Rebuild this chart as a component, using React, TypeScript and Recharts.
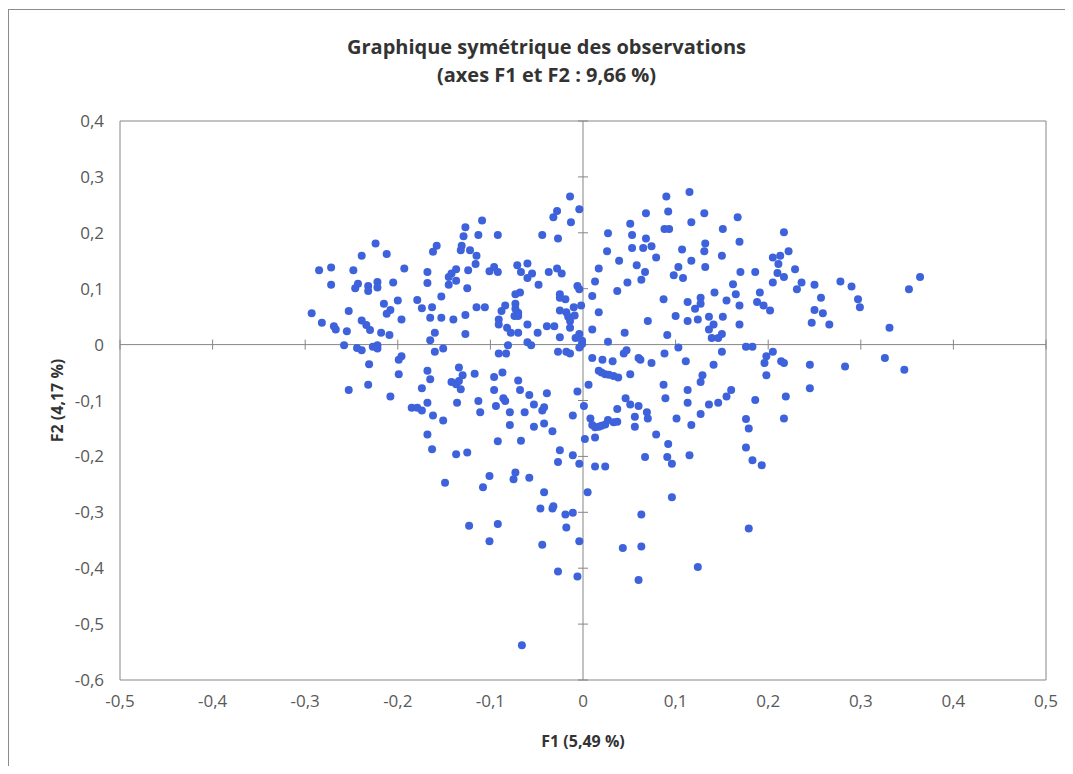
import React from 'react';
import {
	ScatterChart,
	Scatter,
	XAxis,
	YAxis,
	ReferenceLine,
	ReferenceArea,
	Label,
} from 'recharts';

// F1 / F2 coordinates of the observations (grouped by region)
const upperLeft: [number, number][] = [
	[-0.109, 0.222], [-0.127, 0.21], [-0.113, 0.196], [-0.092, 0.196], [-0.129, 0.194], [-0.131, 0.177], [-0.132, 0.169], [-0.122, 0.169], [-0.158, 0.177], [-0.162, 0.166],
	[-0.224, 0.181], [-0.239, 0.159], [-0.212, 0.162], [-0.115, 0.159], [-0.116, 0.144], [-0.285, 0.133], [-0.272, 0.138], [-0.248, 0.133], [-0.193, 0.136], [-0.168, 0.13],
	[-0.137, 0.135], [-0.142, 0.127], [-0.145, 0.121], [-0.124, 0.133], [-0.101, 0.131], [-0.096, 0.139], [-0.092, 0.13], [-0.272, 0.107], [-0.243, 0.109], [-0.246, 0.101],
	[-0.232, 0.105], [-0.232, 0.096], [-0.222, 0.112], [-0.222, 0.102], [-0.205, 0.111], [-0.168, 0.11], [-0.145, 0.107], [-0.137, 0.114], [-0.125, 0.101], [-0.153, 0.086],
	[-0.2, 0.079], [-0.179, 0.08], [-0.293, 0.056], [-0.253, 0.06], [-0.215, 0.073], [-0.208, 0.062], [-0.212, 0.055], [-0.174, 0.065], [-0.163, 0.067], [-0.115, 0.067],
	[-0.106, 0.067], [-0.084, 0.07], [-0.088, 0.06], [-0.282, 0.039], [-0.269, 0.033], [-0.267, 0.027], [-0.255, 0.024], [-0.239, 0.043], [-0.234, 0.035], [-0.23, 0.026],
	[-0.218, 0.021], [-0.209, 0.017], [-0.196, 0.045], [-0.165, 0.048], [-0.153, 0.048], [-0.14, 0.045], [-0.127, 0.053], [-0.127, 0.019], [-0.16, 0.021], [-0.091, 0.045],
	[-0.091, 0.036], [-0.082, 0.03], [-0.258, -0.001], [-0.165, 0.008], [-0.081, -0.001],
];

const upperCenter: [number, number][] = [
	[-0.014, 0.265], [-0.028, 0.239], [-0.032, 0.228], [-0.004, 0.242], [-0.013, 0.219], [-0.044, 0.196], [-0.027, 0.19], [0.09, 0.265], [0.115, 0.273], [0.068, 0.235],
	[0.092, 0.238], [0.131, 0.235], [0.051, 0.216], [0.117, 0.219], [0.088, 0.207], [0.093, 0.207], [0.151, 0.207], [0.027, 0.199], [0.053, 0.196], [0.068, 0.19],
	[0.053, 0.173], [0.065, 0.173], [0.074, 0.176], [0.132, 0.181], [0.131, 0.167], [0.026, 0.167], [0.107, 0.17], [0.079, 0.156], [0.039, 0.15], [0.117, 0.15],
	[0.15, 0.159], [0.058, 0.142], [0.067, 0.13], [0.063, 0.116], [0.103, 0.139], [0.098, 0.124], [0.108, 0.119], [0.132, 0.139], [0.017, 0.136], [0.013, 0.113],
	[0.048, 0.111], [0.037, 0.096], [0.01, 0.087], [0.017, 0.058], [0.01, 0.027], [0.045, 0.021], [0.07, 0.042], [0.087, 0.081], [0.1, 0.051], [0.091, 0.017],
	[0.113, 0.076], [0.121, 0.064], [0.127, 0.084], [0.127, 0.073], [0.142, 0.093], [0.113, 0.042], [0.124, 0.045], [0.136, 0.05], [0.141, 0.036], [0.136, 0.027],
	[0.151, 0.05], [0.139, 0.012], [0.146, 0.012], [0.15, 0.019], [0.027, 0.005], [0.103, -0.005],
	[-0.071, 0.142], [-0.067, 0.13], [-0.06, 0.145], [-0.055, 0.127], [-0.06, 0.119], [-0.037, 0.13], [-0.028, 0.136], [-0.023, 0.127], [-0.048, 0.107], [-0.073, 0.09],
	[-0.068, 0.093], [-0.073, 0.073], [-0.073, 0.064], [-0.07, 0.057], [-0.074, 0.051], [-0.07, 0.051], [-0.025, 0.09], [-0.025, 0.084], [-0.019, 0.081], [-0.006, 0.105],
	[-0.004, 0.099], [-0.025, 0.061], [-0.018, 0.058], [-0.016, 0.05], [-0.009, 0.052], [-0.014, 0.042], [-0.01, 0.067], [-0.002, 0.07], [-0.06, 0.036], [-0.039, 0.033],
	[-0.031, 0.033], [-0.014, 0.03], [-0.078, 0.021], [-0.07, 0.021], [-0.049, 0.021], [-0.025, 0.013], [-0.008, 0.012], [-0.004, 0.019], [-0.001, 0.007], [-0.06, 0.004],
	[-0.056, -0.001], [-0.001, 0.001],
];

const upperRight: [number, number][] = [
	[0.167, 0.228], [0.169, 0.184], [0.217, 0.201], [0.205, 0.156], [0.213, 0.159], [0.211, 0.144], [0.222, 0.167], [0.229, 0.135], [0.17, 0.13], [0.186, 0.13],
	[0.21, 0.128], [0.217, 0.121], [0.205, 0.111], [0.236, 0.111], [0.231, 0.099], [0.25, 0.107], [0.278, 0.113], [0.29, 0.104], [0.364, 0.121], [0.352, 0.099],
	[0.162, 0.108], [0.165, 0.09], [0.155, 0.079], [0.169, 0.07], [0.191, 0.093], [0.188, 0.076], [0.195, 0.07], [0.202, 0.061], [0.257, 0.084], [0.297, 0.081],
	[0.299, 0.067], [0.25, 0.062], [0.259, 0.056], [0.247, 0.039], [0.266, 0.036], [0.169, 0.036], [0.331, 0.03],
];

const lowerLeft: [number, number][] = [
	[-0.244, -0.006], [-0.239, -0.01], [-0.227, -0.004], [-0.222, -0.001], [-0.222, -0.007], [-0.16, -0.013], [-0.151, -0.007], [-0.091, -0.016], [-0.083, -0.016], [-0.196, -0.021],
	[-0.199, -0.027], [-0.231, -0.035], [-0.199, -0.053], [-0.168, -0.047], [-0.165, -0.062], [-0.134, -0.041], [-0.13, -0.055], [-0.142, -0.067], [-0.137, -0.071], [-0.134, -0.065],
	[-0.132, -0.08], [-0.117, -0.052], [-0.096, -0.058], [-0.087, -0.05], [-0.232, -0.072], [-0.253, -0.081], [-0.174, -0.078], [-0.208, -0.093], [-0.096, -0.081], [-0.168, -0.104],
	[-0.185, -0.113], [-0.179, -0.113], [-0.174, -0.118], [-0.136, -0.104], [-0.113, -0.101], [-0.111, -0.121], [-0.094, -0.11], [-0.086, -0.096], [-0.084, -0.101], [-0.162, -0.127],
	[-0.151, -0.136], [-0.168, -0.161], [-0.163, -0.187], [-0.137, -0.196], [-0.125, -0.193], [-0.092, -0.173], [-0.149, -0.247], [-0.101, -0.235], [-0.108, -0.255],
];

const lowerCenter: [number, number][] = [
	[-0.027, -0.013], [-0.018, -0.013], [-0.014, -0.016], [-0.004, -0.005], [0.01, -0.024], [0.021, -0.027], [0.032, -0.03], [0.044, -0.016], [0.047, -0.01], [0.06, -0.024],
	[0.062, -0.027], [0.074, -0.033], [0.088, -0.016], [0.111, -0.03], [0.15, -0.013], [0.141, -0.036], [0.017, -0.047], [0.02, -0.05], [0.024, -0.053], [0.028, -0.054],
	[0.033, -0.056], [0.038, -0.059], [0.051, -0.053], [0.129, -0.055], [0.127, -0.067], [-0.07, -0.064], [-0.068, -0.081], [-0.058, -0.09], [-0.053, -0.107], [-0.039, -0.087],
	[0.006, -0.072], [-0.006, -0.084], [0.087, -0.072], [0.089, -0.096], [0.113, -0.081], [0.113, -0.104], [0.136, -0.107], [0.146, -0.104], [0.046, -0.096], [0.051, -0.107],
	[0.06, -0.11], [0.037, -0.115], [0.001, -0.11], [-0.079, -0.121], [-0.063, -0.121], [-0.044, -0.118], [-0.042, -0.112], [-0.079, -0.144], [-0.053, -0.147], [-0.042, -0.141],
	[-0.033, -0.155], [-0.011, -0.127], [0.008, -0.132], [0.01, -0.144], [0.013, -0.148], [0.017, -0.147], [0.02, -0.145], [0.024, -0.143], [0.027, -0.135], [0.033, -0.139],
	[0.037, -0.138], [0.013, -0.166], [0.056, -0.129], [0.056, -0.147], [0.069, -0.121], [0.07, -0.132], [0.079, -0.161], [0.101, -0.132], [0.117, -0.144], [0.127, -0.124],
	[0.002, -0.169], [-0.067, -0.172], [-0.025, -0.189], [-0.027, -0.21], [-0.011, -0.198], [-0.004, -0.213], [0.013, -0.218], [0.024, -0.218], [0.067, -0.201], [0.092, -0.178],
	[0.091, -0.201], [0.096, -0.213], [0.115, -0.198], [-0.073, -0.229], [-0.075, -0.241], [-0.058, -0.238], [-0.042, -0.264], [0.005, -0.264], [0.096, -0.273],
];

const lowerRight: [number, number][] = [
	[0.176, -0.004], [0.183, -0.004], [0.205, -0.013], [0.198, -0.021], [0.196, -0.033], [0.214, -0.03], [0.217, -0.033], [0.245, -0.036], [0.283, -0.039], [0.326, -0.024],
	[0.347, -0.045], [0.198, -0.055], [0.245, -0.078], [0.16, -0.081], [0.155, -0.093], [0.186, -0.099], [0.219, -0.093], [0.176, -0.133], [0.179, -0.15], [0.217, -0.132],
	[0.176, -0.184], [0.183, -0.207], [0.193, -0.216], [0.179, -0.329],
];

const bottom: [number, number][] = [
	[-0.046, -0.293], [-0.033, -0.293], [-0.032, -0.289], [-0.019, -0.304], [-0.011, -0.301], [-0.123, -0.324], [-0.092, -0.321], [-0.018, -0.327], [-0.101, -0.352], [-0.044, -0.358],
	[-0.004, -0.352], [0.063, -0.304], [0.043, -0.364], [0.063, -0.361], [0.124, -0.398], [-0.027, -0.406], [-0.006, -0.415], [0.06, -0.421], [-0.066, -0.538],
];

const xTicks = [-0.5, -0.4, -0.3, -0.2, -0.1, 0, 0.1, 0.2, 0.3, 0.4, 0.5];
const yTicks = [-0.6, -0.5, -0.4, -0.3, -0.2, -0.1, 0, 0.1, 0.2, 0.3, 0.4];

const observations = [
	...upperLeft,
	...upperCenter,
	...upperRight,
	...lowerLeft,
	...lowerCenter,
	...lowerRight,
	...bottom,
].map(([f1, f2]) => ({ f1, f2 }));

const WIDTH = 1073;
const HEIGHT = 774;
const Y_AXIS_W = 60;
const X_AXIS_H = 60;
// plot area: x 120..1046, y 121..680
const MARGIN = { top: 121, right: 27, bottom: 94 - X_AXIS_H, left: 120 - Y_AXIS_W };
const PLOT_W = 1046 - 120;
const PLOT_H = 680 - 121;

const AXIS_GREY = '#868686';
const DOT_BLUE = '#3d62db';
const TITLE_COLOR = '#333333';
const FONT = '"Open Sans", "Liberation Sans", sans-serif';

// half length of the small cross ticks on the axes through the origin, in data units
const xTickHalf = (5 / PLOT_H) * (yTicks[yTicks.length - 1] - yTicks[0]);
const yTickHalf = (5 / PLOT_W) * (xTicks[xTicks.length - 1] - xTicks[0]);

function formatTick(v: number): string {
	if (Math.abs(v) < 1e-9) return '0';
	return v.toFixed(1).replace('.', ',');
}

function Dot(props: { cx?: number; cy?: number }) {
	if (props.cx == null || props.cy == null) return null;
	return <circle cx={props.cx} cy={props.cy} r={4} fill={DOT_BLUE} />;
}

export default function App() {
	return (
		<div
			style={{
				position: 'relative',
				width: WIDTH,
				height: HEIGHT,
				margin: -8,
				overflow: 'hidden',
				background: '#fff',
				fontFamily: FONT,
			}}
		>
			<div
				style={{
					position: 'absolute',
					left: 8,
					top: 9,
					width: WIDTH + 40,
					height: HEIGHT + 40,
					border: '1px solid #8c8c8c',
				}}
			/>
			<div
				style={{
					position: 'absolute',
					left: 0,
					top: 33,
					width: 1093,
					textAlign: 'center',
					fontSize: 20,
					fontWeight: 700,
					lineHeight: '28px',
					color: TITLE_COLOR,
				}}
			>
				<div>Graphique symétrique des observations</div>
				<div>(axes F1 et F2 : 9,66 %)</div>
			</div>
			<div style={{ position: 'absolute', left: 0, top: 0 }}>
				<ScatterChart width={WIDTH} height={HEIGHT} margin={MARGIN}>
					<ReferenceArea
						x1={xTicks[0]}
						x2={xTicks[xTicks.length - 1]}
						y1={yTicks[0]}
						y2={yTicks[yTicks.length - 1]}
						fill="none"
						stroke={AXIS_GREY}
						strokeWidth={1}
					/>
					<XAxis
						type="number"
						dataKey="f1"
						domain={[xTicks[0], xTicks[xTicks.length - 1]]}
						ticks={xTicks}
						tickFormatter={formatTick}
						axisLine={false}
						tickLine={false}
						tickSize={0}
						tickMargin={15}
						height={X_AXIS_H}
						interval={0}
						tick={{ fill: '#595959', fontSize: 17, fontFamily: FONT }}
					>
						<Label
							content={(p: any) => {
								const vb = p.viewBox || { x: 120, y: 680, width: PLOT_W };
								return (
									<text
										x={vb.x + vb.width / 2}
										y={vb.y + 67}
										textAnchor="middle"
										fill={TITLE_COLOR}
										fontSize={16}
										fontWeight={700}
										fontFamily={FONT}
									>
										F1 (5,49 %)
									</text>
								);
							}}
						/>
					</XAxis>
					<YAxis
						type="number"
						dataKey="f2"
						domain={[yTicks[0], yTicks[yTicks.length - 1]]}
						ticks={yTicks}
						tickFormatter={formatTick}
						axisLine={false}
						tickLine={false}
						tickSize={0}
						tickMargin={16}
						width={Y_AXIS_W}
						interval={0}
						tick={{ fill: '#595959', fontSize: 17, fontFamily: FONT }}
					>
						<Label
							content={(p: any) => {
								const vb = p.viewBox || { x: 120 - Y_AXIS_W, y: 121, width: Y_AXIS_W, height: PLOT_H };
								const cx = vb.x + vb.width - 63;
								const cy = vb.y + vb.height / 2;
								return (
									<text
										x={cx}
										y={cy}
										transform={`rotate(-90, ${cx}, ${cy})`}
										textAnchor="middle"
										dominantBaseline="central"
										fill={TITLE_COLOR}
										fontSize={16}
										fontWeight={700}
										fontFamily={FONT}
									>
										F2 (4,17 %)
									</text>
								);
							}}
						/>
					</YAxis>
					<ReferenceLine y={0} stroke={AXIS_GREY} strokeWidth={1} />
					<ReferenceLine x={0} stroke={AXIS_GREY} strokeWidth={1} />
					{xTicks.map((t) => (
						<ReferenceLine
							key={`xt-${t}`}
							segment={[
								{ x: t, y: -xTickHalf },
								{ x: t, y: xTickHalf },
							]}
							stroke={AXIS_GREY}
							strokeWidth={1}
						/>
					))}
					{yTicks.map((t) => (
						<ReferenceLine
							key={`yt-${t}`}
							segment={[
								{ x: -yTickHalf, y: t },
								{ x: yTickHalf, y: t },
							]}
							stroke={AXIS_GREY}
							strokeWidth={1}
						/>
					))}
					<Scatter
						data={observations}
						fill={DOT_BLUE}
						shape={(p: any) => <Dot cx={p.cx} cy={p.cy} />}
						isAnimationActive={false}
					/>
				</ScatterChart>
			</div>
		</div>
	);
}
